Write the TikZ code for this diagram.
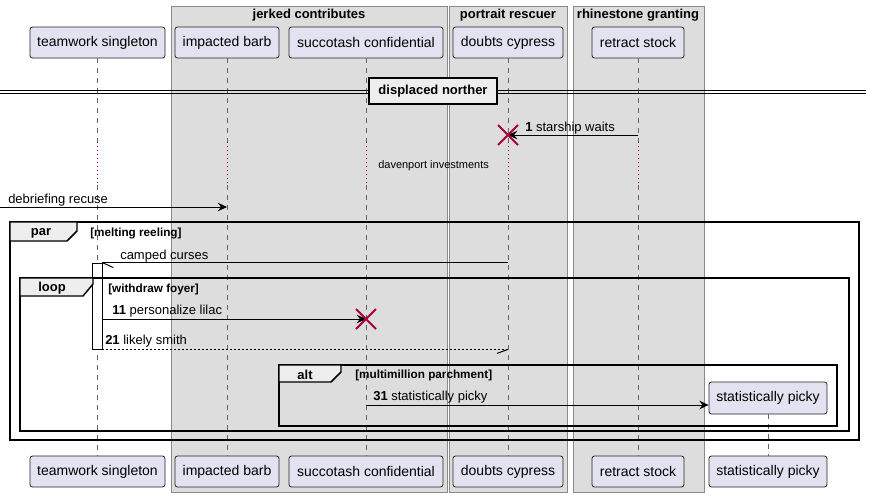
\documentclass[tikz,border=0pt]{standalone}
\usepackage{fontspec}
\setmainfont{Liberation Sans}
\usetikzlibrary{arrows.meta}
\newlength\upx \setlength\upx{0.75pt}
\definecolor{partfill}{HTML}{E2E2F0}
\definecolor{grpfill}{HTML}{DDDDDD}
\definecolor{grpline}{HTML}{8A8A8A}
\definecolor{tabfill}{HTML}{EEEEEE}
\definecolor{destroycol}{HTML}{A80036}
\definecolor{lifecol}{HTML}{666666}
\tikzset{
  part/.style={draw=black!85, fill=partfill, rounded corners=2.5\upx, inner sep=0pt,
    minimum height=31\upx, line width=0.6pt, font=\fontsize{10.5}{12}\selectfont},
  grpbox/.style={draw=grpline, fill=grpfill, line width=0.75pt},
  grptitle/.style={inner sep=0pt, font=\bfseries\fontsize{9.75}{11}\selectfont},
  life/.style={draw=lifecol, line width=0.6pt, dash pattern=on 3.75pt off 3.75pt},
  delayline/.style={draw=destroycol, line width=0.75pt, dash pattern=on 0.75pt off 2.25pt},
  msg/.style={line width=0.75pt, -{Stealth[length=7pt,width=6.5pt,inset=2.5pt]}},
  plainmsg/.style={line width=0.75pt},
  retmsg/.style={line width=0.75pt, dash pattern=on 1.5pt off 1.5pt},
  lbl/.style={anchor=west, inner sep=0pt, font=\fontsize{9.75}{11}\selectfont},
  smalllbl/.style={anchor=west, inner sep=0pt, font=\fontsize{8.25}{10}\selectfont},
  framebox/.style={draw=black, line width=1.1pt},
  tabbox/.style={draw=black, fill=tabfill, line width=1.1pt},
  tabtext/.style={inner sep=0pt, font=\bfseries\fontsize{9.75}{11}\selectfont},
  guardtext/.style={anchor=west, inner sep=0pt, font=\bfseries\fontsize{8.8}{10}\selectfont},
  xmark/.style={draw=destroycol, line width=1.5pt},
  actbar/.style={draw=black, fill=white, line width=0.6pt, inner sep=0pt,
    minimum width=10\upx, minimum height=86\upx},
}
\begin{document}
\begin{tikzpicture}[x=0.75pt, y=-0.75pt]
\useasboundingbox[fill=white] (0,0) rectangle (873,497);

% group boxes
\draw[grpbox] (171,6) rectangle (447,492);
\draw[grpbox] (449,6) rectangle (567,492);
\draw[grpbox] (573,6) rectangle (704,492);
\node[grptitle] (g1) at (309,15) {jerked contributes};
\node[grptitle] (g2) at (508,15) {portrait rescuer};
\node[grptitle] (g3) at (638,15) {rhinestone granting};

% participants top
\node[part, minimum width=135\upx] (t1) at (97.5,42.5) {teamwork singleton};
\node[part, minimum width=104\upx] (t2) at (227,42.5) {impacted barb};
\node[part, minimum width=154\upx] (t3) at (366,42.5) {succotash confidential};
\node[part, minimum width=110\upx] (t4) at (508,42.5) {doubts cypress};
\node[part, minimum width=92\upx] (t5) at (638,42.5) {retract stock};
% participants bottom
\node[part, minimum width=135\upx] (b1) at (97.5,471.5) {teamwork singleton};
\node[part, minimum width=104\upx] (b2) at (227,471.5) {impacted barb};
\node[part, minimum width=154\upx] (b3) at (366,471.5) {succotash confidential};
\node[part, minimum width=110\upx] (b4) at (508,471.5) {doubts cypress};
\node[part, minimum width=92\upx] (b5) at (638,471.5) {retract stock};
\node[part, minimum width=118\upx] (b6) at (768,471.5) {statistically picky};
% created participant
\node[part, minimum width=118\upx, minimum height=32\upx] (sp) at (768,398) {statistically picky};

% lifelines with delay
\coordinate (dA) at (0,142);
\coordinate (dB) at (0,185);
\foreach \i in {1,...,5}{
  \draw[life] (t\i.south) -- (t\i.south |- dA);
  \draw[delayline] (t\i.south |- dA) -- (t\i.south |- dB);
  \draw[life] (t\i.south |- dB) -- (b\i.north);
}
\draw[life] (sp.south) -- (b6.north);

% divider
\draw[line width=0.75pt] (0,90) -- (866,90);
\draw[line width=0.75pt] (0,93) -- (866,93);
\node[draw=black, fill=tabfill, line width=1.1pt, minimum width=128\upx, minimum height=26\upx,
  inner sep=0pt, font=\bfseries\fontsize{9.75}{11}\selectfont] (div) at (433,91) {displaced norther};

% message 1
\coordinate (y1) at (0,135);
\draw[msg] (t5 |- y1) -- (t4 |- y1);
\node[lbl] (l1) at (525,128) {\textbf{1} starship waits};
\draw[xmark] (t4 |- y1) ++(-10,-10) -- ++(20,20);
\draw[xmark] (t4 |- y1) ++(-10,10) -- ++(20,-20);

% delay text
\node[smalllbl] (dtext) at (378,166) {davenport investments};

% debriefing recuse
\coordinate (lin) at (0,207);
\draw[msg] (lin) -- (t2 |- lin);
\node[lbl] (l2) at (8,200) {debriefing recuse};

% par frame
\draw[framebox] (10,222) rectangle (859,440);
\draw[tabbox] (10,222) -- (77,222) -- (77,231) -- (67,241) -- (10,241) -- cycle;
\node[tabtext] (tpar) at (41,233) {par};
\node[guardtext] (gpar) at (90,233) {[melting reeling]};

% activation bar
\node[actbar] (act) at (97,306) {};

% camped curses
\draw[plainmsg] (t4 |- act.north) -- (act.north east);
\draw[plainmsg] (act.north east) -- ++(11,5);
\node[lbl] (l3) at (120,256) {camped curses};

% loop frame
\draw[framebox] (20,278) rectangle (849,431);
\draw[tabbox] (20,278) -- (93,278) -- (93,284) -- (83,296) -- (20,296) -- cycle;
\node[tabtext] (tloop) at (52,288.5) {loop};
\node[guardtext] (gloop) at (108,289) {[withdraw foyer]};

% 11 personalize lilac
\coordinate (y11) at (0,319);
\draw[msg] (act.east |- y11) -- (t3 |- y11);
\node[lbl] (l11) at (112,311) {\textbf{11} personalize lilac};
\draw[xmark] (t3 |- y11) ++(-10,-10) -- ++(20,20);
\draw[xmark] (t3 |- y11) ++(-10,10) -- ++(20,-20);

% 21 likely smith
\draw[retmsg] (act.south east) -- (t4 |- act.south);
\draw[plainmsg] (t4 |- act.south) -- ++(-11,4);
\node[lbl] (l21) at (105,341) {\textbf{21} likely smith};

% alt frame
\draw[framebox] (279,365) rectangle (837,426);
\draw[tabbox] (279,365) -- (341,365) -- (341,372) -- (331,382) -- (279,382) -- cycle;
\node[tabtext] (talt) at (305,374.5) {alt};
\node[guardtext] (galt) at (355,375) {[multimillion parchment]};

% 31 statistically picky
\coordinate (y31) at (0,405);
\draw[msg] (t3 |- y31) -- (sp.west |- y31);
\node[lbl] (l31) at (373,397) {\textbf{31} statistically picky};
\end{tikzpicture}
\end{document}
